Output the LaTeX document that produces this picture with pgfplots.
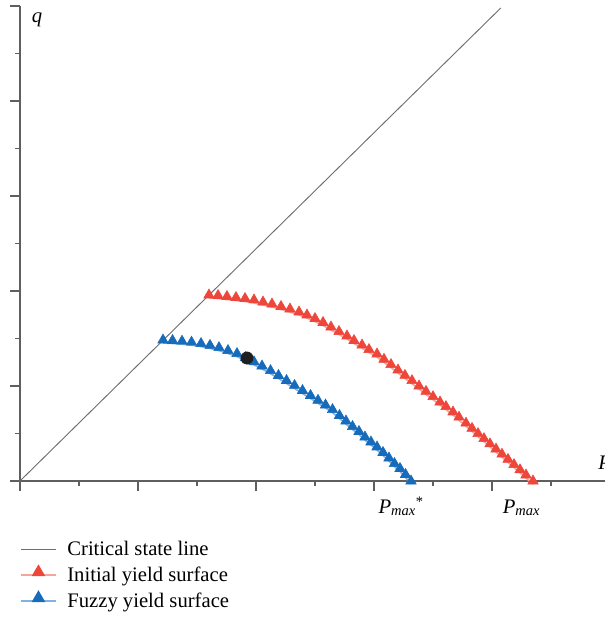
\documentclass[border=0pt]{standalone}
\usepackage{fontspec}
\setmainfont{Liberation Serif}
\usepackage{pgfplots}
\usepackage{pgfplotstable}
\pgfplotsset{compat=1.18}
\definecolor{myred}{RGB}{238,70,58}
\definecolor{mylred}{RGB}{246,165,155}
\definecolor{myblue}{RGB}{22,108,186}
\definecolor{mylblue}{RGB}{130,178,226}
\definecolor{axgray}{RGB}{95,95,95}
\definecolor{csl}{RGB}{110,110,110}

\pgfplotstableread{
x y
3.203 3.916
3.356 3.905
3.508 3.884
3.661 3.863
3.814 3.842
3.966 3.811
4.119 3.768
4.271 3.726
4.424 3.674
4.576 3.621
4.729 3.558
4.864 3.495
5.000 3.421
5.136 3.337
5.271 3.242
5.407 3.147
5.542 3.053
5.661 2.958
5.797 2.863
5.915 2.768
6.051 2.674
6.169 2.562
6.288 2.451
6.407 2.337
6.525 2.223
6.644 2.112
6.763 2.000
6.881 1.886
7.000 1.775
7.119 1.663
7.220 1.566
7.339 1.453
7.441 1.343
7.559 1.217
7.661 1.107
7.763 0.998
7.864 0.891
7.966 0.781
8.068 0.672
8.169 0.564
8.271 0.455
8.373 0.345
8.475 0.236
8.576 0.126
8.695 0.000
}\redtab

\pgfplotstableread{
x y
2.424 2.968
2.585 2.958
2.746 2.943
2.907 2.922
3.068 2.893
3.220 2.855
3.373 2.808
3.525 2.747
3.678 2.682
3.822 2.600
3.966 2.509
4.102 2.421
4.246 2.324
4.381 2.221
4.517 2.116
4.653 2.011
4.788 1.905
4.924 1.800
5.051 1.699
5.178 1.600
5.297 1.503
5.415 1.379
5.525 1.263
5.636 1.147
5.746 1.042
5.847 0.926
5.949 0.821
6.051 0.716
6.153 0.600
6.254 0.484
6.347 0.368
6.441 0.263
6.534 0.137
6.627 0.000
}\bluetab

\begin{document}
\begin{tikzpicture}
\begin{axis}[
  scale only axis, width=438.75pt, height=356.25pt,
  xmin=0, xmax=9.915, ymin=0, ymax=10,
  axis lines=left,
  axis line style={-, axgray, line width=1.4pt},
  xtick={0,2,4,6,8}, minor xtick={1,3,5,7,9},
  ytick={0,2,4,6,8,10}, minor ytick={1,3,5,7,9},
  xticklabels={}, yticklabels={},
  tick align=outside,
  major tick length=7.5pt, minor tick length=3.8pt,
  every tick/.style={axgray, line width=1.1pt},
  clip=false,
  legend style={at={(axis cs:0,-1.2)}, anchor=north west, draw=none, fill=none,
    inner sep=0pt, font=\fontsize{15.5}{18}\selectfont, row sep=3pt},
  legend cell align=left,
  legend image code/.code={\draw[mark repeat=2,mark phase=2,#1] plot coordinates {(0pt,0pt) (13pt,0pt) (26pt,0pt)}; \path (32pt,0pt);},
]
\addlegendimage{csl, line width=0.8pt}
\addlegendentry{Critical state line}
\addlegendimage{mylred, line width=1.3pt, mark=triangle*, mark size=4.6pt, mark options={myred, yshift=2pt}}
\addlegendentry{Initial yield surface}
\addlegendimage{mylblue, line width=1.3pt, mark=triangle*, mark size=4.6pt, mark options={myblue, yshift=2pt}}
\addlegendentry{Fuzzy yield surface}

\addplot[csl, line width=0.7pt, forget plot] coordinates {(0,0) (8.15,9.96)};
\addplot[mylred, line width=1.3pt, yshift=-2.2pt, forget plot] table[x=x,y=y] {\redtab};
\addplot[only marks, mark=triangle*, mark size=4.5pt, myred, forget plot] table[x=x,y=y] {\redtab};
\addplot[mylblue, line width=1.3pt, yshift=-2.2pt, forget plot] table[x=x,y=y] {\bluetab};
\addplot[only marks, mark=triangle*, mark size=4.5pt, myblue, forget plot] table[x=x,y=y] {\bluetab};
\addplot[only marks, mark=*, mark size=4.6pt, black!88, forget plot] coordinates {(3.847,2.589)};

\node[anchor=base, font=\fontsize{15.5}{18}\selectfont] at (axis cs:6.46,-0.674) {\textit{P}\textsubscript{\textit{max}}\textsuperscript{*}};
\node[anchor=base, font=\fontsize{15.5}{18}\selectfont] at (axis cs:8.50,-0.674) {\textit{P}\textsubscript{\textit{max}}};
\node[font=\fontsize{15.5}{18}\selectfont] at (axis cs:0.29,9.71) {\textit{q}};
\node[anchor=base west, inner sep=0pt, font=\fontsize{15.5}{18}\selectfont] at (axis cs:9.80,0.25) {\textit{P}};
\end{axis}
\pgfresetboundingbox
\useasboundingbox (-15pt,-102.75pt) rectangle (438.75pt,360.75pt);
\end{tikzpicture}
\end{document}
